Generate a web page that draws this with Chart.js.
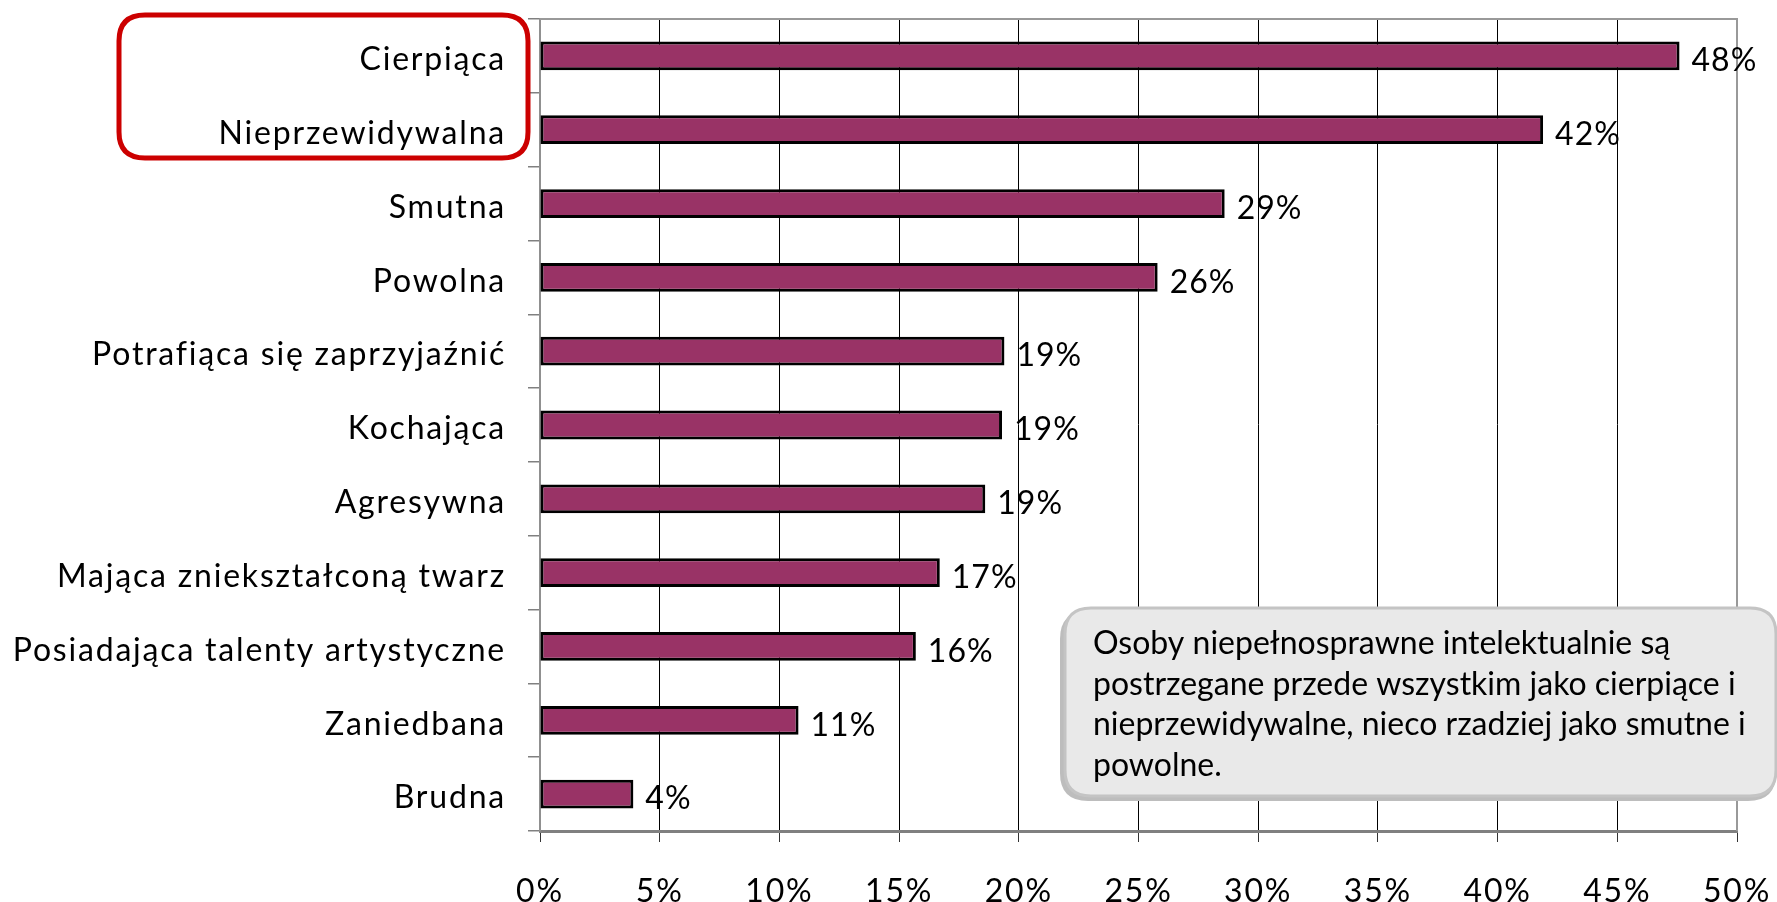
<!DOCTYPE html>
<html>
<head>
<meta charset="utf-8">
<script src="https://cdn.jsdelivr.net/npm/chart.js@4.4.1/dist/chart.umd.min.js"></script>
<style>
  html, body { margin: 0; padding: 0; background: #fff; }
  canvas { display: block; }
</style>
</head>
<body>
<canvas id="traitsChart" width="1777" height="902"></canvas>
<script>
const categories = [
    'Cierpiąca', 'Nieprzewidywalna', 'Smutna', 'Powolna',
    'Potrafiąca się zaprzyjaźnić', 'Kochająca', 'Agresywna',
    'Mająca zniekształconą twarz', 'Posiadająca talenty artystyczne',
    'Zaniedbana', 'Brudna'
];
const shares = [47.6, 41.9, 28.6, 25.8, 19.4, 19.3, 18.6, 16.7, 15.7, 10.8, 3.9];
const xTicks = [0, 5, 10, 15, 20, 25, 30, 35, 40, 45, 50];
const noteLines = [
    'Osoby niepełnosprawne intelektualnie są',
    'postrzegane przede wszystkim jako cierpiące i',
    'nieprzewidywalne, nieco rzadziej jako smutne i',
    'powolne.'
];

const FONT = 'Lato';

function roundRect(ctx, x, y, w, h, r) {
    ctx.beginPath();
    ctx.moveTo(x + r, y);
    ctx.lineTo(x + w - r, y);
    ctx.quadraticCurveTo(x + w, y, x + w, y + r);
    ctx.lineTo(x + w, y + h - r);
    ctx.quadraticCurveTo(x + w, y + h, x + w - r, y + h);
    ctx.lineTo(x + r, y + h);
    ctx.quadraticCurveTo(x, y + h, x, y + h - r);
    ctx.lineTo(x, y + r);
    ctx.quadraticCurveTo(x, y, x + r, y);
    ctx.closePath();
}

// wider letter spacing for axis labels (like the original), reset before bars
const spacing = {
    id: 'spacing',
    beforeDraw(chart) { chart.ctx.letterSpacing = '1.8px'; },
    beforeDatasetsDraw(chart) { chart.ctx.letterSpacing = '0px'; }
};

// top + right frame of the plot area
const frame = {
    id: 'frame',
    beforeDatasetsDraw(chart) {
        const { ctx, chartArea: a } = chart;
        ctx.save();
        ctx.strokeStyle = '#999999';
        ctx.lineWidth = 2;
        ctx.beginPath();
        ctx.moveTo(a.left, a.top);
        ctx.lineTo(a.right, a.top);
        ctx.lineTo(a.right, a.bottom);
        ctx.stroke();
        ctx.restore();
    }
};

// value labels right of each bar
const valueLabels = {
    id: 'valueLabels',
    afterDatasetsDraw(chart) {
        const ctx = chart.ctx;
        ctx.save();
        ctx.font = '32px ' + FONT;
        ctx.letterSpacing = '1px';
        ctx.fillStyle = '#000';
        ctx.textAlign = 'left';
        ctx.textBaseline = 'middle';
        chart.getDatasetMeta(0).data.forEach(function(bar, i) {
            ctx.fillText(Math.round(shares[i]) + '%', bar.x + 12, bar.y + 5);
        });
        ctx.restore();
    }
};

// red highlight box and grey comment box
const notes = {
    id: 'notes',
    afterDraw(chart) {
        const ctx = chart.ctx;
        ctx.save();
        ctx.letterSpacing = '0px';

        ctx.strokeStyle = '#cc0000';
        ctx.lineWidth = 5;
        roundRect(ctx, 119, 15, 409, 143, 26);
        ctx.stroke();

        roundRect(ctx, 1060, 611, 716, 190, 28);
        ctx.fillStyle = '#bdbdbd';
        ctx.fill();
        roundRect(ctx, 1065, 608, 711, 188, 26);
        ctx.fillStyle = '#e9e9e9';
        ctx.fill();
        ctx.strokeStyle = '#c4c4c4';
        ctx.lineWidth = 3;
        ctx.stroke();

        ctx.fillStyle = '#000';
        ctx.font = '32px ' + FONT;
        ctx.textAlign = 'left';
        ctx.textBaseline = 'alphabetic';
        noteLines.forEach(function(line, i) {
            ctx.fillText(line, 1093, 654 + i * 40.6);
        });
        ctx.restore();
    }
};

const ctx = document.getElementById('traitsChart').getContext('2d');
const traitsChart = new Chart(ctx, {
    type: 'bar',
    data: {
        labels: categories,
        datasets: [{
            data: shares,
            backgroundColor: '#993366',
            borderColor: '#000000',
            borderWidth: 3,
            borderSkipped: false,
            categoryPercentage: 1,
            barPercentage: 0.39
        }]
    },
    options: {
        indexAxis: 'y',
        responsive: false,
        devicePixelRatio: 1,
        animation: false,
        layout: {
            padding: { top: 19, right: 40, left: 0, bottom: 0 }
        },
        scales: {
            x: {
                min: 0,
                max: 50,
                afterFit: function(s) {
                    s.height = 71;
                    s.paddingLeft = 0;
                    s.paddingRight = 0;
                },
                afterBuildTicks: function(s) {
                    s.ticks = xTicks.map(function(v) { return { value: v }; });
                },
                ticks: {
                    color: '#000',
                    padding: 30,
                    font: { family: FONT, size: 32 },
                    callback: function(v) { return v + '%'; }
                },
                grid: {
                    color: '#000000',
                    lineWidth: 1,
                    tickLength: 11,
                    tickColor: '#333333'
                },
                border: { color: '#808080', width: 3 }
            },
            y: {
                afterFit: function(s) {
                    s.width = 540;
                    s.paddingTop = 0;
                    s.paddingBottom = 0;
                },
                ticks: {
                    color: '#000',
                    padding: 22,
                    labelOffset: 4,
                    font: { family: FONT, size: 32 }
                },
                grid: {
                    drawOnChartArea: false,
                    tickLength: 12,
                    color: '#808080',
                    lineWidth: 1.5
                },
                border: { color: '#909090', width: 2 }
            }
        },
        plugins: {
            legend: { display: false },
            tooltip: { enabled: false }
        }
    },
    plugins: [spacing, frame, valueLabels, notes]
});
</script>
</body>
</html>
